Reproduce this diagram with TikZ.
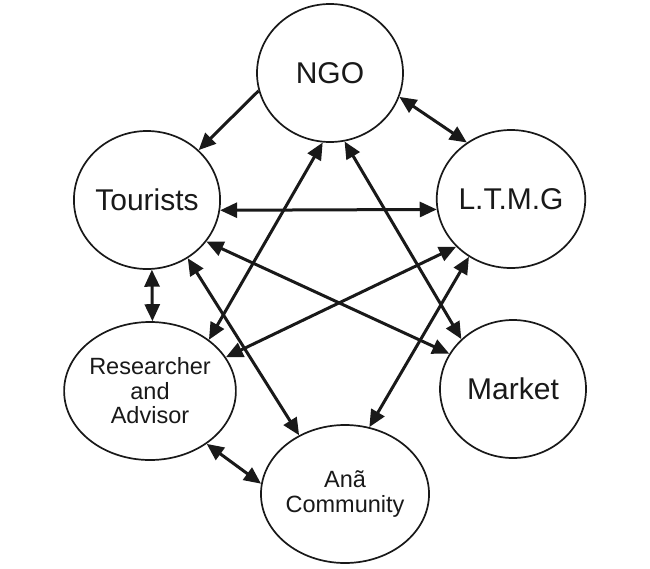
\documentclass[tikz,border=0pt]{standalone}
\usepackage{fontspec}
\setmainfont{Liberation Sans}
\usetikzlibrary{arrows.meta,shapes.geometric}
\tikzset{
  actor/.style={ellipse, draw=black!90, line width=1.7pt, minimum width=146pt, minimum height=138pt, inner sep=0pt, text=black!90, align=center},
  bigtxt/.style={font=\fontsize{30}{32}\selectfont},
  smalltxt/.style={font=\fontsize{23.5}{24.5}\selectfont},
  dblarr/.style={line width=3pt, draw=black!90, {Triangle[length=17pt,width=15pt]}-{Triangle[length=17pt,width=15pt]}},
  sglarr/.style={line width=3pt, draw=black!90, -{Triangle[length=17pt,width=15pt]}}
}
\begin{document}
\begin{tikzpicture}[x=1pt,y=-1pt]
\useasboundingbox[fill=white] (0,0) rectangle (650,568);
\node[actor,bigtxt] (ngo) at (330,73) {NGO};
\node[actor,bigtxt] (tour) at (147,200) {Tourists};
\node[actor,bigtxt] (ltmg) at (511,199) {L.T.M.G};
\node[actor,smalltxt] (res) at (150,391) {Researcher\\and\\Advisor};
\node[actor,bigtxt] (mkt) at (513,389) {Market};
\node[actor,smalltxt] (ana) at (345,494) {Anã\\Community};

\draw[sglarr] (ngo.194) -- (tour.44);
\draw[dblarr] (ngo.341) -- (ltmg.128);
\draw[dblarr] (tour.352) -- (ltmg.188.6);
\draw[dblarr] (tour.274) -- (res.88);
\draw[dblarr] (res.41) -- (ngo.264);
\draw[dblarr] (ngo.282) -- (mkt.136);
\draw[dblarr] (tour.325) -- (mkt.151);
\draw[dblarr] (tour.305) -- (ana.128);
\draw[dblarr] (ltmg.221) -- (res.24);
\draw[dblarr] (ltmg.234) -- (ana.70);
\draw[dblarr] (res.317) -- (ana.173);
\end{tikzpicture}
\end{document}
